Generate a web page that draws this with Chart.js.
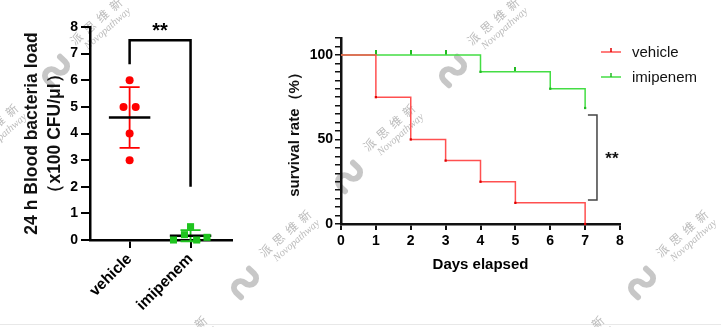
<!DOCTYPE html>
<html>
<head>
<meta charset="utf-8">
<script src="https://cdn.jsdelivr.net/npm/chart.js@4.4.0/dist/chart.umd.min.js"></script>
<style>
  html, body { margin: 0; padding: 0; background: #fff; }
  #wrap { position: relative; width: 721px; height: 327px; overflow: hidden; }
  #wm { position: absolute; left: 0; top: 0; }
  .box { position: absolute; top: 0; height: 327px; }
</style>
</head>
<body>
<div id="wrap">
  <canvas id="wm" width="721" height="327"></canvas>
  <div class="box" style="left:0;width:260px"><canvas id="load"></canvas></div>
  <div class="box" style="left:260px;width:461px"><canvas id="surv"></canvas></div>
</div>
<script>
// ---- data ----
const groups = ['vehicle', 'imipenem'];
const vehicleLoad = [6, 5, 5, 4, 3];
const imipenemLoad = [0, 0.2, 0.5, 0, 0.1];

const dayTicks = [0, 1, 2, 3, 4, 5, 6, 7, 8];
const vehicleDays = [0, 1, 2, 3, 4, 5, 7];
const vehicleSurvival = [100, 75, 50, 37.5, 25, 12.5, 0];
const imipenemDays = [0, 4, 6, 7];
const imipenemSurvival = [100, 90, 80, 68.6];
const imipenemCensorDays = [1, 2, 3, 5];
const imipenemCensorSurvival = [100, 100, 100, 90];

const RED = '#ff0000';
const GREEN = '#1fc41f';

Chart.defaults.font.family = '"Liberation Sans", Arial, sans-serif';
Chart.defaults.color = '#000';
Chart.defaults.animation = false;

// ---- watermark (background) ----
const wm = document.getElementById('wm').getContext('2d');
wm.fillStyle = '#e8e8e8';
wm.fillRect(0, 324, 721, 1);

function drawLogo(x, y) {
  wm.save();
  wm.translate(x, y);
  wm.rotate(-0.8);
  wm.strokeStyle = 'rgba(185,185,185,0.8)';
  wm.lineWidth = 6;
  wm.lineCap = 'round';
  wm.beginPath();
  wm.moveTo(-13, 7);
  wm.lineTo(-13, 0);
  wm.arc(-6.5, 0, 6.5, Math.PI, 0);
  wm.arc(6.5, 0, 6.5, Math.PI, 0, true);
  wm.lineTo(13, -7);
  wm.stroke();
  wm.restore();
}

function drawMarkText(x, y) {
  wm.save();
  wm.translate(x, y);
  wm.rotate(-0.72);
  wm.fillStyle = 'rgba(170,170,170,0.8)';
  wm.textAlign = 'center';
  wm.textBaseline = 'middle';
  wm.font = '12px "Noto Sans CJK SC"';
  wm.fillText('派  思  维  新', 0, -6);
  wm.font = 'italic 10.5px "Liberation Serif", serif';
  wm.fillText('Novopathway', 4, 7);
  wm.restore();
}

for (let i = -2; i <= 2; i++) {
  for (let j = -1; j <= 3; j++) {
    const px = 245 + 397 * i + 104 * j;
    const py = 283 - 106 * j;
    drawLogo(px, py);
    drawMarkText(px + 44, py - 45);
  }
}

// ---- left: bacterial load ----
const loadSpread = [[0, -0.1, 0.1, 0, 0], [-0.28, -0.1, 0, 0.1, 0.27]];

const meanSdPlugin = {
  id: 'meanSd',
  beforeDatasetsDraw(chart) {
    const { ctx, scales: { x, y } } = chart;
    const cols = [RED, GREEN];
    ctx.save();
    [vehicleLoad, imipenemLoad].forEach((vals, i) => {
      const n = vals.length;
      const mean = vals.reduce((a, b) => a + b, 0) / n;
      const sd = Math.sqrt(vals.reduce((a, b) => a + (b - mean) ** 2, 0) / (n - 1));
      const cx = x.getPixelForValue(i + 1);
      const half = x.getPixelForValue(i + 1.34) - cx;
      const cap = x.getPixelForValue(i + 1.165) - cx;
      const yTop = y.getPixelForValue(mean + sd);
      const yBot = y.getPixelForValue(mean - sd);
      ctx.strokeStyle = cols[i];
      ctx.lineWidth = 1.8;
      ctx.beginPath();
      ctx.moveTo(cx, yTop); ctx.lineTo(cx, yBot);
      ctx.moveTo(cx - cap, yTop); ctx.lineTo(cx + cap, yTop);
      ctx.moveTo(cx - cap, yBot); ctx.lineTo(cx + cap, yBot);
      ctx.stroke();
      const ym = y.getPixelForValue(mean);
      ctx.strokeStyle = '#000';
      ctx.lineWidth = 2.5;
      ctx.beginPath();
      ctx.moveTo(cx - half, ym); ctx.lineTo(cx + half, ym);
      ctx.stroke();
    });
    ctx.restore();
  },
  afterDatasetsDraw(chart) {
    const { ctx, scales: { x, y } } = chart;
    const x1 = x.getPixelForValue(1), x2 = x.getPixelForValue(2);
    const top = y.getPixelForValue(7.5);
    ctx.save();
    ctx.strokeStyle = '#000';
    ctx.lineWidth = 2.5;
    ctx.beginPath();
    ctx.moveTo(x1, y.getPixelForValue(6.6));
    ctx.lineTo(x1, top);
    ctx.lineTo(x2, top);
    ctx.lineTo(x2, y.getPixelForValue(2));
    ctx.stroke();
    ctx.fillStyle = '#000';
    ctx.font = 'bold 20px "Liberation Sans", Arial, sans-serif';
    ctx.textAlign = 'center';
    ctx.textBaseline = 'middle';
    ctx.fillText('**', (x1 + x2) / 2, y.getPixelForValue(7.85));
    ctx.restore();
  }
};

new Chart(document.getElementById('load'), {
  type: 'scatter',
  data: {
    datasets: [
      {
        label: groups[0],
        data: vehicleLoad.map((v, k) => ({ x: 1 + loadSpread[0][k], y: v })),
        pointStyle: 'circle',
        pointRadius: 4,
        backgroundColor: RED,
        borderColor: RED,
        borderWidth: 0,
        clip: false
      },
      {
        label: groups[1],
        data: imipenemLoad.map((v, k) => ({ x: 2 + loadSpread[1][k], y: v })),
        pointStyle: 'rect',
        pointRadius: 5,
        backgroundColor: GREEN,
        borderColor: GREEN,
        borderWidth: 0,
        clip: false
      }
    ]
  },
  options: {
    responsive: true,
    maintainAspectRatio: false,
    layout: { padding: { top: 27, right: 28, left: 0, bottom: 0 } },
    plugins: { legend: { display: false }, tooltip: { enabled: false } },
    scales: {
      x: {
        type: 'linear',
        min: 0.35,
        max: 2.68,
        afterBuildTicks: s => { s.ticks = groups.map((g, k) => ({ value: k + 1 })); },
        afterFit: s => { s.height = 87; },
        ticks: {
          callback: v => groups[v - 1] || '',
          font: { size: 15.5, weight: 'bold' },
          color: '#000',
          maxRotation: 45,
          minRotation: 45,
          padding: 2
        },
        grid: { drawOnChartArea: false, tickLength: 8, color: '#000', lineWidth: 2 },
        border: { color: '#000', width: 2.5 }
      },
      y: {
        min: 0,
        max: 8,
        afterFit: s => { s.width = 90; },
        ticks: { stepSize: 1, font: { size: 14, weight: 'bold' }, color: '#000', padding: 3 },
        grid: { drawOnChartArea: false, tickLength: 9, color: '#000', lineWidth: 2 },
        border: { color: '#000', width: 2.5 },
        title: {
          display: true,
          text: ['24 h Blood bacteria load', '（x100 CFU/μl）'],
          font: { size: 17.5, weight: 'bold', lineHeight: 1.3 },
          color: '#111',
          padding: { top: 21, bottom: 0 }
        }
      }
    }
  },
  plugins: [meanSdPlugin]
});

// ---- right: survival ----
function tickMark(color) {
  const c = document.createElement('canvas');
  c.width = 2; c.height = 10;
  const g = c.getContext('2d');
  g.fillStyle = color;
  g.fillRect(0, 0, 2, 5);
  return c;
}

const survLegend = {
  id: 'survLegend',
  afterDraw(chart) {
    const { ctx, chartArea: a, scales: { x, y } } = chart;
    const items = [
      { text: groups[0], line: '#ff5050', mark: '#e00000', yy: a.top + 14 },
      { text: groups[1], line: '#44dd44', mark: '#22bb22', yy: a.top + 39 }
    ];
    ctx.save();
    items.forEach(it => {
      ctx.strokeStyle = it.line;
      ctx.lineWidth = 1.5;
      ctx.beginPath();
      ctx.moveTo(a.right - 19, it.yy); ctx.lineTo(a.right + 1, it.yy);
      ctx.stroke();
      ctx.strokeStyle = it.mark;
      ctx.beginPath();
      ctx.moveTo(a.right - 9, it.yy); ctx.lineTo(a.right - 9, it.yy - 4);
      ctx.stroke();
      ctx.fillStyle = '#111';
      ctx.font = '15px "Liberation Sans", Arial, sans-serif';
      ctx.textBaseline = 'middle';
      ctx.fillText(it.text, a.right + 12, it.yy + 1);
    });
    // significance bracket
    const bx = x.getPixelForValue(7.34), ex = x.getPixelForValue(7.08);
    const t = y.getPixelForValue(64.5), b = y.getPixelForValue(14.2);
    ctx.strokeStyle = '#444';
    ctx.lineWidth = 1.5;
    ctx.beginPath();
    ctx.moveTo(ex, t); ctx.lineTo(bx, t); ctx.lineTo(bx, b); ctx.lineTo(ex, b);
    ctx.stroke();
    ctx.fillStyle = '#111';
    ctx.font = 'bold 17px "Liberation Sans", Arial, sans-serif';
    ctx.textAlign = 'center';
    ctx.fillText('**', x.getPixelForValue(7.77), y.getPixelForValue(38));
    ctx.restore();
  }
};

const dropRadius = c => (c.dataIndex === 0 ? 0 : 1.6);

new Chart(document.getElementById('surv'), {
  type: 'line',
  data: {
    datasets: [
      {
        label: groups[0],
        data: vehicleDays.map((d, k) => ({ x: d, y: vehicleSurvival[k] })),
        stepped: true,
        borderColor: '#ff5050',
        borderWidth: 1.5,
        pointStyle: 'rect',
        pointRadius: dropRadius,
        pointBackgroundColor: '#e00000',
        pointBorderWidth: 0,
        fill: false,
        clip: false
      },
      {
        label: groups[1],
        data: imipenemDays.map((d, k) => ({ x: d, y: imipenemSurvival[k] })),
        stepped: true,
        borderColor: '#44dd44',
        borderWidth: 1.5,
        pointStyle: 'rect',
        pointRadius: dropRadius,
        pointBackgroundColor: '#22bb22',
        pointBorderWidth: 0,
        fill: false,
        clip: false
      },
      {
        label: groups[1] + ' censored',
        data: imipenemCensorDays.map((d, k) => ({ x: d, y: imipenemCensorSurvival[k] })),
        showLine: false,
        pointStyle: tickMark('#22bb22'),
        pointRadius: 3,
        clip: false
      }
    ]
  },
  options: {
    responsive: true,
    maintainAspectRatio: false,
    layout: { padding: { top: 38, right: 101, left: 26, bottom: 53 } },
    plugins: { legend: { display: false }, tooltip: { enabled: false } },
    scales: {
      x: {
        type: 'linear',
        min: dayTicks[0],
        max: dayTicks[dayTicks.length - 1],
        afterFit: s => { s.height = 50; },
        ticks: { stepSize: 1, font: { size: 14, weight: 'bold' }, color: '#000', padding: 3 },
        grid: { drawOnChartArea: false, tickLength: 6, color: '#111', lineWidth: 2 },
        border: { color: '#111', width: 2.5 },
        title: {
          display: true,
          text: 'Days elapsed',
          font: { size: 15, weight: 'bold' },
          color: '#000',
          padding: { top: 0, bottom: 0 }
        }
      },
      y: {
        min: 0,
        max: 110,
        afterFit: s => { s.width = 55; },
        ticks: {
          stepSize: 5,
          autoSkip: false,
          callback: v => (v % 50 === 0 ? v : ''),
          font: { size: 14, weight: 'bold' },
          color: '#000',
          padding: 2
        },
        grid: { drawOnChartArea: false, tickLength: 6, color: '#111', lineWidth: 1.5 },
        border: { color: '#111', width: 2.5 },
        title: {
          display: true,
          text: 'survival rate（%）',
          font: { size: 15, weight: 'bold' },
          color: '#111',
          padding: { top: 0, bottom: 0 }
        }
      }
    }
  },
  plugins: [survLegend]
});
</script>
</body>
</html>
